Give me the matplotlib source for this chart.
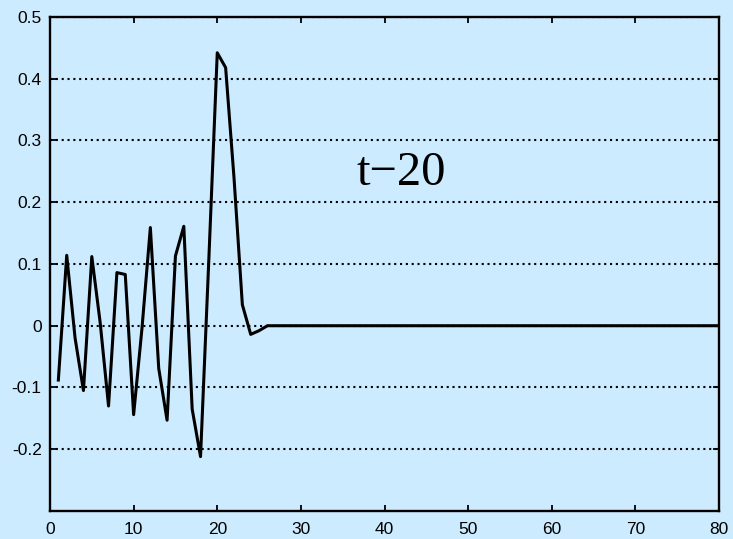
import matplotlib
matplotlib.use('Agg')
import matplotlib.pyplot as plt
import numpy as np

# sample index and filter response (t-20)
t = np.arange(1, 81)
head = [-0.088, 0.114, -0.02, -0.105, 0.112, 0.005, -0.130, 0.086, 0.083, -0.144,
        -0.004, 0.159, -0.069, -0.153, 0.113, 0.161, -0.135, -0.212, 0.11, 0.442,
        0.418, 0.24, 0.034, -0.014, -0.008]
resp = np.array(head + [0.0] * (80 - len(head)))

xticks = np.arange(0, 81, 10)
yticks = [-0.2, -0.1, 0, 0.1, 0.2, 0.3, 0.4, 0.5]
ylabels = ['-0.2', '-0.1', '0', '0.1', '0.2', '0.3', '0.4', '0.5']

bg = '#cdebfe'
plt.rcParams['font.family'] = ['Liberation Sans', 'DejaVu Sans']

fig = plt.figure(figsize=(7.33, 5.39), dpi=100, facecolor=bg)
ax = fig.add_axes([0.0682, 0.052, 0.9128, 0.9165], facecolor=bg)

ax.plot(t, resp, color='black', lw=2.2)

ax.set_xlim(0, 80)
ax.set_ylim(-0.3, 0.5)
ax.set_xticks(xticks)
ax.set_yticks(yticks)
ax.set_yticklabels(ylabels)
ax.tick_params(direction='in', top=True, right=True, length=4.5, width=1.3,
               labelsize=12.5, pad=6)
ax.tick_params(axis='x', pad=8)
ax.yaxis.grid(True, linestyle=(0, (1, 1.8)), color='black', lw=1.5)
for s in ax.spines.values():
    s.set_linewidth(1.7)

ax.text(42, 0.228, 't\u221220', fontsize=35, family=['Liberation Serif'],
        ha='center', va='baseline')

fig.savefig('out.png', dpi=100, facecolor=bg)
